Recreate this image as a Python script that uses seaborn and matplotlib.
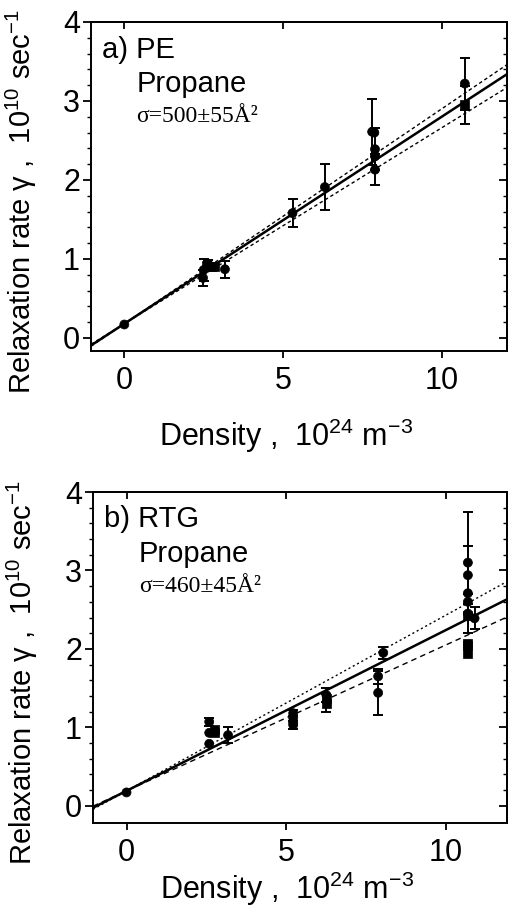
import numpy as np
import pandas as pd
import matplotlib
matplotlib.use("Agg")
import matplotlib.pyplot as plt
import seaborn as sns

# ---------------- data ----------------
# panel a) PE, propane
pe_x = [0.0, 2.48, 2.50, 2.58, 2.65, 2.75, 2.85, 3.17, 5.30, 6.32, 7.81, 7.88, 7.90, 7.90, 7.90, 10.73, 10.73]
pe_y = [0.17, 0.76, 0.86, 0.92, 0.93, 0.90, 0.90, 0.87, 1.58, 1.91, 2.61, 2.60, 2.39, 2.30, 2.13, 3.22, 2.95]
pe_err = [0, 0.10, 0.14, 0, 0.06, 0, 0, 0.11, 0.18, 0.29, 0.42, 0, 0.27, 0, 0.20, 0.33, 0.24]
pe_mark = ['o', 'o', 'o', 's', 'o', 's', 's', 'o', 'o', 'o', 'o', 'o', 'o', 'o', 'o', 'o', 's']

# panel b) RTG, propane
rtg_x = [0.0, 2.59, 2.59, 2.59, 2.77, 2.77, 3.18, 5.22, 5.22, 5.22, 5.22, 6.26, 6.26, 6.26,
         7.88, 7.88, 8.04, 10.69, 10.69, 10.69, 10.69, 10.69, 10.69, 10.69, 10.69, 10.69, 10.90]
rtg_y = [0.17, 1.07, 0.93, 0.79, 0.97, 0.93, 0.90, 1.18, 1.12, 1.06, 1.03, 1.41, 1.37, 1.31,
         1.65, 1.44, 1.95, 3.10, 2.94, 2.71, 2.60, 2.45, 2.43, 2.07, 2.04, 1.94, 2.39]
rtg_err = [0, 0.05, 0, 0, 0, 0, 0.10, 0.04, 0, 0, 0.05, 0.09, 0, 0.11,
           0.10, 0.28, 0.08, 0.65, 0.37, 0, 0, 0.25, 0, 0, 0, 0, 0.14]
rtg_mark = ['o', 'o', 'o', 'o', 's', 's', 'o', 'o', 'o', 'o', 'o', 'o', 's', 's',
            'o', 'o', 'o', 'o', 'o', 'o', 'o', 'o', 's', 's', 's', 's', 'o']

# fitted lines: intercept, slope (best, upper, lower)
pe_fit = [(0.18, 0.262), (0.18, 0.272), (0.18, 0.248)]
rtg_fit = [(0.19, 0.205), (0.19, 0.224), (0.19, 0.186)]

panel_text = [("a) PE", "Propane", "σ=500±55Å²"), ("b) RTG", "Propane", "σ=460±45Å²")]

# ---------------- style ----------------
sns.set_style("ticks")
plt.rcParams['font.family'] = ['Liberation Sans', 'DejaVu Sans']
plt.rcParams['mathtext.fontset'] = 'custom'
plt.rcParams['mathtext.rm'] = 'Liberation Sans'
plt.rcParams['mathtext.it'] = 'Liberation Sans:italic'
plt.rcParams['axes.linewidth'] = 1.4
for k in ['text.color', 'axes.labelcolor', 'xtick.color', 'ytick.color', 'axes.edgecolor']:
    plt.rcParams[k] = 'black'

fig = plt.figure(figsize=(5.09, 9.09), dpi=100)
ax_a = fig.add_axes([0.1788, 0.6139, 0.8173, 0.3619])
ax_b = fig.add_axes([0.1827, 0.0946, 0.8143, 0.3641])


def draw_panel(ax, xs, ys, errs, marks, fits, texts, ylim, xlim, styles):
    df = pd.DataFrame({'x': xs, 'y': ys, 'err': errs, 'm': marks})
    eb = df[df['err'] > 0]
    ax.errorbar(eb['x'], eb['y'], yerr=eb['err'], fmt='none', ecolor='black',
                elinewidth=1.4, capsize=3.5, capthick=1.4, zorder=3)
    sns.scatterplot(data=df, x='x', y='y', style='m', markers={'o': 'o', 's': 's'},
                    color='black', s=42, edgecolor='black', linewidth=0.5,
                    legend=False, ax=ax, zorder=4)
    xx = np.linspace(xlim[0], xlim[1], 200)
    for (a, b), (ls, lw) in zip(fits, styles):
        sns.lineplot(x=xx, y=a + b * xx, color='black', linestyle=ls, lw=lw, ax=ax, zorder=2)

    ax.set_xlim(*xlim)
    ax.set_ylim(*ylim)
    ax.set_xticks([0, 5, 10])
    ax.set_yticks([0, 1, 2, 3, 4])
    ax.set_yticks(np.arange(0, 4.01, 0.2), minor=True)
    ax.tick_params(axis='x', direction='out', length=5, width=1.3, labelsize=22, pad=6)
    ax.tick_params(axis='y', which='major', direction='out', length=6, width=1.3,
                   labelsize=22, pad=2)
    ax.tick_params(axis='y', which='minor', direction='out', length=3, width=1.0)

    top = ax.secondary_xaxis('top')
    top.set_xticks([0, 5, 10])
    top.tick_params(direction='in', length=5, width=1.3, labeltop=False)
    right = ax.secondary_yaxis('right')
    right.set_yticks([0, 1, 2, 3, 4])
    right.set_yticks(np.arange(0, 4.01, 0.2), minor=True)
    right.tick_params(which='major', direction='in', length=6, width=1.3, labelright=False)
    right.tick_params(which='minor', direction='in', length=3, width=1.0)

    ax.set_xlabel('Density ,  10$^{24}$ m$^{-3}$', fontsize=22)
    ax.set_ylabel('Relaxation rate γ ,  10$^{10}$ sec$^{-1}$', fontsize=21)

    t1, t2, t3 = texts
    ax.text(xlim[0] + 0.35, ylim[1] - 0.35, t1, fontsize=21, va='center', ha='left')
    ax.text(0.38, ylim[1] - 0.79, t2, fontsize=21, va='center', ha='left')
    ax.text(0.38, ylim[1] - 1.2, t3, fontsize=17, va='center', ha='left',
            family=['Liberation Serif', 'DejaVu Serif'])


draw_panel(ax_a, pe_x, pe_y, pe_err, pe_mark, pe_fit, panel_text[0],
           (-0.165, 4.0), (-1.05, 12.06),
           [('-', 1.8), ((0, (2.5, 2)), 1.0), ((0, (2.5, 2)), 1.0)])
draw_panel(ax_b, rtg_x, rtg_y, rtg_err, rtg_mark, rtg_fit, panel_text[1],
           (-0.22, 4.0), (-1.05, 11.93),
           [('-', 1.8), ((0, (1.5, 2)), 1.0), ((0, (4, 3)), 1.0)])

ax_a.yaxis.set_label_coords(-0.125, 0.455)
ax_b.yaxis.set_label_coords(-0.128, 0.456)
ax_a.xaxis.set_label_coords(0.469, -0.2)
ax_b.xaxis.set_label_coords(0.467, -0.14)

fig.savefig('out.png', dpi=100)
